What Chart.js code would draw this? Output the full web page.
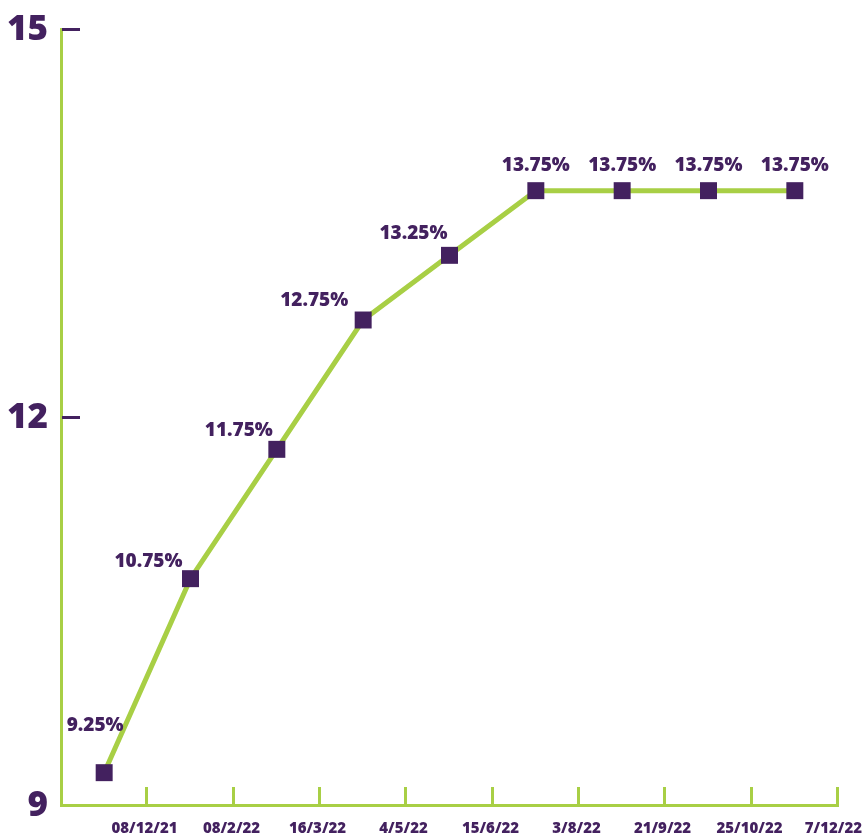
<!DOCTYPE html>
<html>
<head>
<meta charset="utf-8">
<script src="https://cdn.jsdelivr.net/npm/chart.js@4.4.1/dist/chart.umd.min.js"></script>
<style>
  html, body { margin: 0; padding: 0; background: #fff; }
  #wrap { width: 864px; height: 837px; }
</style>
</head>
<body>
<div id="wrap"><canvas id="rates"></canvas></div>
<script>
// Meeting dates (shown at the end of each period) and the rate set
const dates = ['08/12/21', '08/2/22', '16/3/22', '4/5/22', '15/6/22', '3/8/22', '21/9/22', '25/10/22', '7/12/22']
const rates = [9.25, 10.75, 11.75, 12.75, 13.25, 13.75, 13.75, 13.75, 13.75]
const yTicks = [9, 12, 15]

const PURPLE = '#43215f'
const GREEN = '#a8cf45'
const FONT = '"Open Sans", Lato, sans-serif'

// label offsets relative to each marker (dx, dy, alignment)
const labelPlacement = [
  { dx: -9, dy: -47, align: 'center' },
  { dx: -8, dy: -17, align: 'right' },
  { dx: -4, dy: -19, align: 'right' },
  { dx: -15, dy: -19, align: 'right' },
  { dx: -2, dy: -22, align: 'right' },
  { dx: 0, dy: -25, align: 'center' },
  { dx: 0, dy: -25, align: 'center' },
  { dx: 0, dy: -25, align: 'center' },
  { dx: 0, dy: -25, align: 'center' }
]

// tick marks, tick labels and value labels; the scales keep their own
// labels hidden so the automatic padding doesn't shrink the plot
const decorations = {
  id: 'decorations',
  afterDatasetsDraw (chart) {
    const { ctx, chartArea, scales: { x, y } } = chart
    ctx.save()

    // green ticks rising from the x axis, date under each
    ctx.lineWidth = 3
    ctx.font = `800 15px ${FONT}`
    ctx.textAlign = 'center'
    ctx.textBaseline = 'middle'
    x.ticks.forEach((t, i) => {
      const px = Math.round(x.getPixelForValue(t.value)) - 0.5
      ctx.strokeStyle = GREEN
      ctx.beginPath()
      ctx.moveTo(px, chartArea.bottom)
      ctx.lineTo(px, chartArea.bottom - 18)
      ctx.stroke()
      const label = dates[i]
      const w = ctx.measureText(label).width
      // keep the last date inside the canvas
      const cx = Math.min(px - 2, chart.width - 2 - w / 2)
      ctx.fillStyle = PURPLE
      ctx.fillText(label, cx, chartArea.bottom + 24)
    })

    // purple ticks to the right of the y axis, value to the left
    ctx.font = `800 35px ${FONT}`
    ctx.textAlign = 'right'
    y.ticks.forEach(t => {
      const py = Math.round(y.getPixelForValue(t.value)) + 0.5
      if (t.value !== y.min) {
        ctx.strokeStyle = PURPLE
        ctx.beginPath()
        ctx.moveTo(chartArea.left + 1, py)
        ctx.lineTo(chartArea.left + 19, py)
        ctx.stroke()
      }
      ctx.fillStyle = PURPLE
      ctx.fillText(String(t.value), chartArea.left - 13, py + 1)
    })

    // value labels
    ctx.font = `800 19px ${FONT}`
    const meta = chart.getDatasetMeta(0)
    meta.data.forEach((pt, i) => {
      const p = labelPlacement[i]
      ctx.textAlign = p.align
      ctx.fillText(rates[i].toFixed(2) + '%', pt.x + p.dx, pt.y + p.dy)
    })
    ctx.restore()
  }
}

new Chart(document.getElementById('rates'), {
  type: 'line',
  data: {
    datasets: [{
      data: rates.map((v, i) => ({ x: i + 0.5, y: v })),
      borderColor: GREEN,
      borderWidth: 5,
      pointStyle: 'rect',
      pointRadius: 12,
      pointHoverRadius: 12,
      pointBackgroundColor: PURPLE,
      pointBorderWidth: 0,
      tension: 0
    }]
  },
  options: {
    responsive: true,
    maintainAspectRatio: false,
    animation: false,
    layout: { padding: { top: 29, right: 26, left: 0, bottom: 0 } },
    plugins: { legend: { display: false }, tooltip: { enabled: false } },
    scales: {
      x: {
        type: 'linear',
        min: 0,
        max: dates.length,
        afterFit (scale) { scale.height = 32 },
        afterBuildTicks (scale) {
          scale.ticks = dates.map((d, i) => ({ value: i + 1 }))
        },
        grid: { display: false, drawTicks: false },
        border: { display: true, color: GREEN, width: 3 },
        ticks: { display: false }
      },
      y: {
        min: 9,
        max: 15,
        afterFit (scale) { scale.width = 61 },
        afterBuildTicks (scale) {
          scale.ticks = yTicks.map(v => ({ value: v }))
        },
        grid: { display: false, drawTicks: false },
        border: { display: true, color: GREEN, width: 3 },
        ticks: { display: false }
      }
    }
  },
  plugins: [decorations]
})
</script>
</body>
</html>
